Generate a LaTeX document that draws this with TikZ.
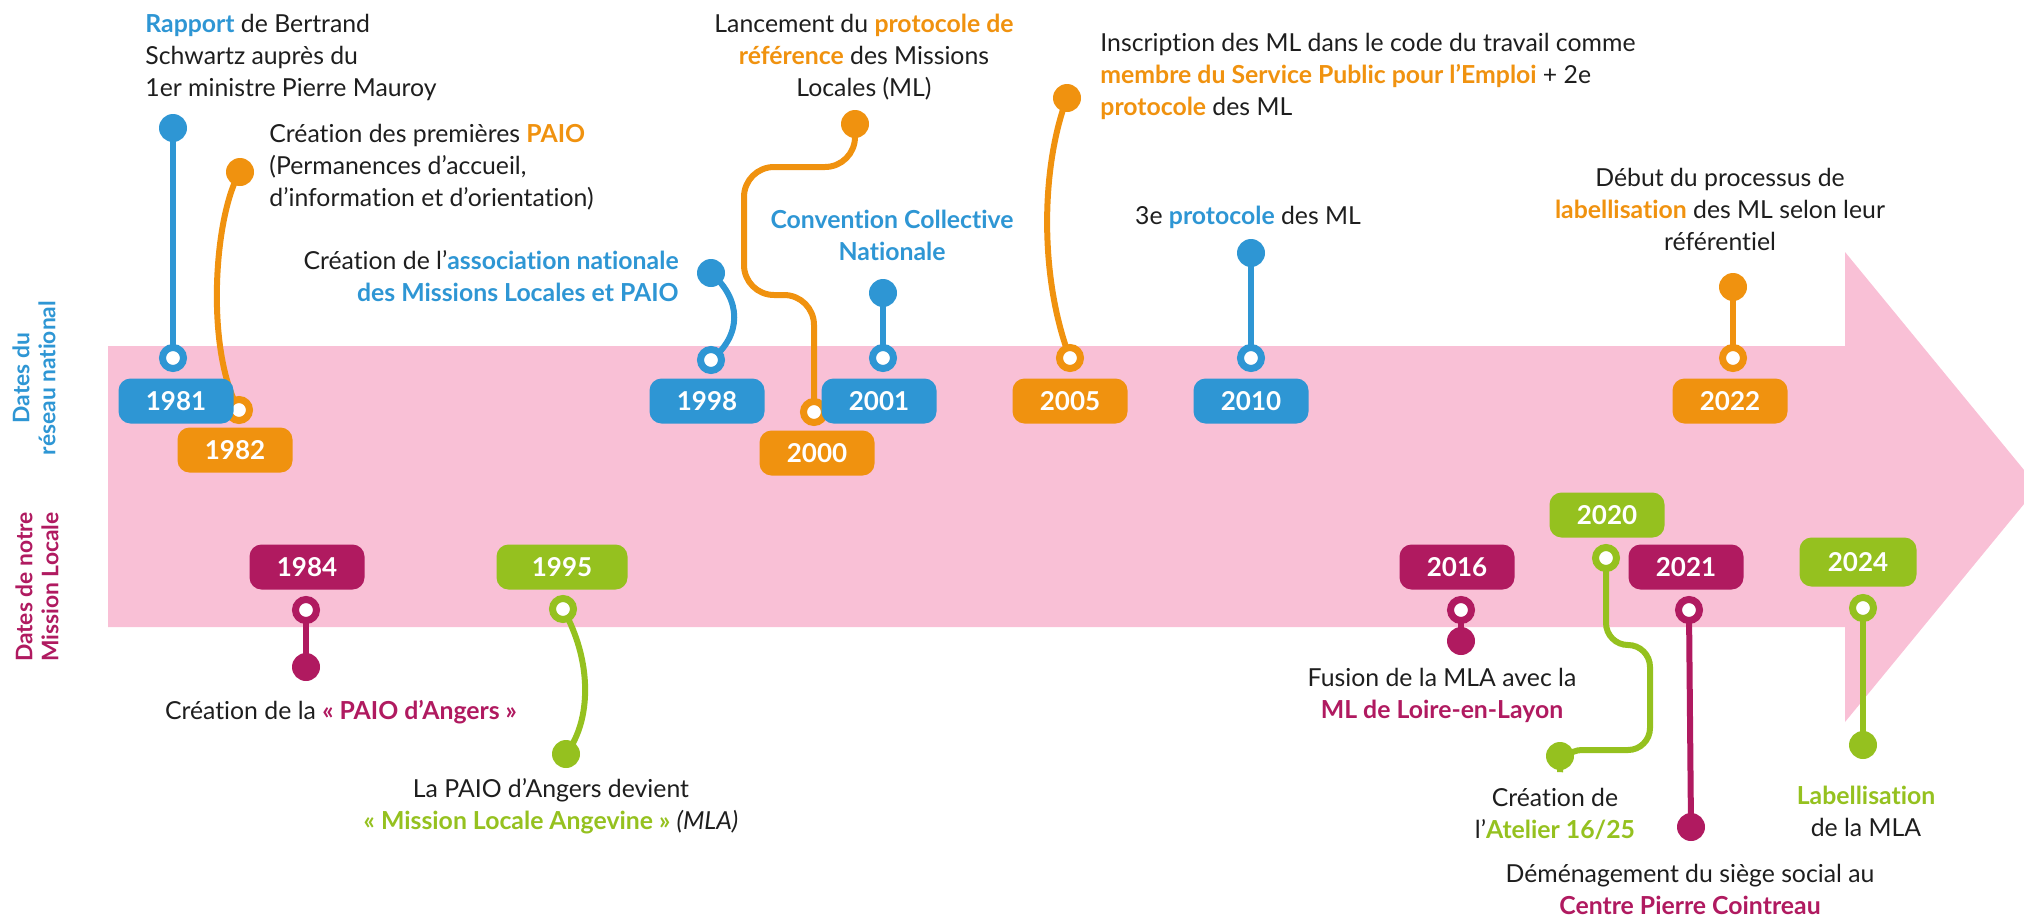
\documentclass[tikz,border=0pt]{standalone}
\usepackage{fontspec}
\setmainfont{Lato}[Ligatures={NoCommon}]
\definecolor{cblue}{HTML}{2E96D4}
\definecolor{corange}{HTML}{F0920F}
\definecolor{cmag}{HTML}{B01A60}
\definecolor{cgreen}{HTML}{95C11F}
\definecolor{cpink}{HTML}{F9C0D6}
\definecolor{ctext}{HTML}{1E1E1E}
\tikzset{
  conn/.style={line width=3pt, line cap=round, draw=#1},
  ringnode/.style={circle, draw=#1, fill=white, line width=3.5pt, minimum size=10.5pt, inner sep=0pt},
  dotnode/.style={circle, fill=#1, minimum size=14pt, inner sep=0pt},
  yearbox/.style={fill=#1, rounded corners=6pt, minimum width=57.5pt, minimum height=22.5pt, inner sep=0pt, text=white, font=\fontsize{13}{14}\selectfont\bfseries},
  body/.style={text=ctext, inner sep=0pt, font=\fontsize{12.4}{16}\selectfont},
  side/.style={rotate=90, align=center, inner sep=0pt, font=\fontsize{11.4}{13}\selectfont\bfseries}
}
\newcommand{\hb}[1]{\textcolor{cblue}{\bfseries #1}}
\newcommand{\ho}[1]{\textcolor{corange}{\bfseries #1}}
\newcommand{\hm}[1]{\textcolor{cmag}{\bfseries #1}}
\newcommand{\hg}[1]{\textcolor{cgreen}{\bfseries #1}}
\begin{document}
\begin{tikzpicture}[x=0.5pt,y=-0.5pt]
\useasboundingbox (0,0) rectangle (2024,916);
% band arrow
\fill[cpink] (108,346) -- (1845,346) -- (1845,252) -- (2038,487) -- (1845,722) -- (1845,627) -- (108,627) -- cycle;
% coordinates of rings and dots
\coordinate (r1981) at (173,358); \coordinate (d1981) at (173,128);
\coordinate (r1982) at (239,410); \coordinate (d1982) at (240,172);
\coordinate (r1998) at (711,360); \coordinate (d1998) at (711,273);
\coordinate (r2000) at (814,412); \coordinate (d2000) at (855,124);
\coordinate (r2001) at (883,358); \coordinate (d2001) at (883,293);
\coordinate (r2005) at (1070,358); \coordinate (d2005) at (1067,98);
\coordinate (r2010) at (1251,358); \coordinate (d2010) at (1251,253);
\coordinate (r2022) at (1733,358); \coordinate (d2022) at (1733,287);
\coordinate (r1984) at (306,610); \coordinate (d1984) at (306,667);
\coordinate (r1995) at (563,609); \coordinate (d1995) at (566,754);
\coordinate (r2016) at (1461,610); \coordinate (d2016) at (1461,641);
\coordinate (r2020) at (1606,558); \coordinate (d2020) at (1560,756);
\coordinate (r2021) at (1689,610); \coordinate (d2021) at (1691,827);
\coordinate (r2024) at (1863,608); \coordinate (d2024) at (1863,745);
% connectors
\draw[conn=cblue] (d1981) -- (r1981);
\draw[conn=corange] (d1982) .. controls (214,215) and (205,350) .. (r1982);
\draw[conn=cblue] (d1998) .. controls (742,300) and (742,335) .. (r1998);
\draw[conn=corange, rounded corners=15pt] (d2000) -- (855,167) -- (744,167) -- (744,295) -- (814,295) -- (r2000);
\draw[conn=cblue] (d2001) -- (r2001);
\draw[conn=corange] (d2005) .. controls (1040,170) and (1040,280) .. (r2005);
\draw[conn=cblue] (d2010) -- (r2010);
\draw[conn=corange] (d2022) -- (r2022);
\draw[conn=cmag] (r1984) -- (d1984);
\draw[conn=cgreen] (r1995) .. controls (592,660) and (592,720) .. (d1995);
\draw[conn=cmag] (r2016) -- (d2016);
\draw[conn=cgreen, rounded corners=11pt] (r2020) -- (1606,645) -- (1650,645) -- (1650,750) -- (1560,750) -- (d2020);
\draw[conn=cmag] (r2021) -- (d2021);
\draw[conn=cgreen] (r2024) -- (d2024);
% rings and dots
\foreach \n/\c in {1981/cblue,1982/corange,1998/cblue,2000/corange,2001/cblue,2005/corange,2010/cblue,2022/corange,1984/cmag,1995/cgreen,2016/cmag,2020/cgreen,2021/cmag,2024/cgreen}{
  \node[ringnode=\c] (R\n) at (r\n) {};
  \node[dotnode=\c] (D\n) at (d\n) {};
}
% year boxes
\node[yearbox=cblue] (y1981) at (176,401) {1981};
\node[yearbox=corange] (y1982) at (235,450) {1982};
\node[yearbox=cblue] (y1998) at (707,401) {1998};
\node[yearbox=corange] (y2000) at (817,453) {2000};
\node[yearbox=cblue] (y2001) at (879,401) {2001};
\node[yearbox=corange] (y2005) at (1070,401) {2005};
\node[yearbox=cblue] (y2010) at (1251,401) {2010};
\node[yearbox=corange] (y2022) at (1730,401) {2022};
\node[yearbox=cmag] (y1984) at (307,567) {1984};
\node[yearbox=cgreen, minimum width=65.5pt] (y1995) at (562,567) {1995};
\node[yearbox=cmag] (y2016) at (1457,567) {2016};
\node[yearbox=cgreen] (y2020) at (1607,515) {2020};
\node[yearbox=cmag] (y2021) at (1686,567) {2021};
\node[yearbox=cgreen, minimum width=58.5pt, minimum height=24.5pt] (y2024) at (1858,562) {2024};
% texts (anchor = baseline of the last line)
\node[body, align=left, anchor=base west] (t1981) at (145,96) {\hb{Rapport} de Bertrand\\Schwartz auprès du\\1er ministre Pierre Mauroy};
\node[body, align=left, anchor=base west] (t1982) at (269,206) {Création des premières \ho{PAIO}\\(Permanences d’accueil,\\d’information et d’orientation)};
\node[body, align=right, anchor=base east] (t1998) at (679,301) {Création de l’\hb{association nationale}\\\hb{des Missions Locales et PAIO}};
\node[body, align=center, anchor=base] (t2000) at (864,96) {Lancement du \ho{protocole de}\\\ho{référence} des Missions\\Locales (ML)};
\node[body, align=center, anchor=base, text=cblue, font=\fontsize{12.4}{16}\selectfont\bfseries] (t2001) at (892,260) {Convention Collective\\Nationale};
\node[body, align=left, anchor=base west] (t2005) at (1100,115) {Inscription des ML dans le code du travail comme\\\ho{membre du Service Public pour l’Emploi} + 2e\\\ho{protocole} des ML};
\node[body, align=center, anchor=base] (t2010) at (1248,224) {3e \hb{protocole} des ML};
\node[body, align=center, anchor=base] (t2022) at (1720,250) {Début du processus de\\\ho{labellisation} des ML selon leur\\référentiel};
\node[body, align=center, anchor=base] (t1984) at (341,719) {Création de la \hm{« PAIO d’Angers »}};
\node[body, align=center, anchor=base] (t1995) at (551,829) {La PAIO d’Angers devient\\\hg{« Mission Locale Angevine »} \textit{(MLA)}};
\node[body, align=center, anchor=base] (t2016) at (1442,718) {Fusion de la MLA avec la\\\hm{ML de Loire-en-Layon}};
\node[body, align=center, anchor=base] (t2020) at (1555,838) {Création de\\l’\hg{Atelier 16/25}};
\node[body, align=center, anchor=base] (t2021) at (1690,914) {Déménagement du siège social au\\\hm{Centre Pierre Cointreau}};
\node[body, align=center, anchor=base] (t2024) at (1866,836) {\hg{Labellisation}\\de la MLA};
% side labels
\node[side, text=cblue] (sNat) at (34,378) {Dates du\\réseau national};
\node[side, text=cmag] (sLoc) at (37,587) {Dates de notre\\Mission Locale};
\end{tikzpicture}
\end{document}
